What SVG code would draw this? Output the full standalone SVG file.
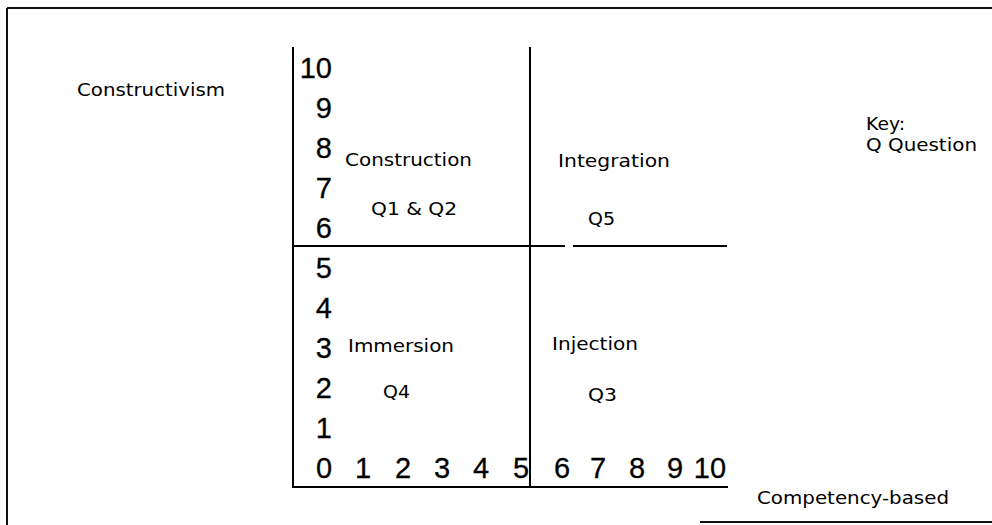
<svg xmlns="http://www.w3.org/2000/svg" width="992" height="525" viewBox="0 0 992 525">
<style>
.ln{stroke:#000;stroke-width:2;fill:none}
.bd{stroke:#111;stroke-width:2;fill:none}
.num{font-family:"Liberation Sans",Arial,sans-serif;font-size:29px;fill:#000;stroke:#000;stroke-width:0.3}
.lb{font-family:"DejaVu Sans","Noto Sans",sans-serif;font-size:18px;fill:#000}
</style>
<rect width="992" height="525" fill="#fff"/>
<g id="frame">
<line class="bd" x1="7" y1="8" x2="992" y2="8"/>
<line class="bd" x1="7" y1="8" x2="7" y2="525"/>
<line class="bd" x1="700" y1="522" x2="992" y2="522"/>
</g>
<g id="connectors">
<line class="ln" x1="293" y1="47" x2="293" y2="488"/>
<line class="ln" x1="530" y1="47" x2="530" y2="488"/>
<line class="ln" x1="292" y1="487" x2="728" y2="487"/>
<line class="ln" x1="292" y1="246" x2="565" y2="246"/>
<line class="ln" x1="573" y1="246" x2="727" y2="246"/>
</g>
<g id="y-axis" class="num" text-anchor="end">
<text x="332" y="78">10</text>
<text x="332" y="118">9</text>
<text x="332" y="158">8</text>
<text x="332" y="198">7</text>
<text x="332" y="238">6</text>
<text x="332" y="278">5</text>
<text x="332" y="318">4</text>
<text x="332" y="358">3</text>
<text x="332" y="398">2</text>
<text x="332" y="438">1</text>
</g>
<g id="x-axis" class="num" text-anchor="middle">
<text x="324" y="478">0</text>
<text x="363" y="478">1</text>
<text x="403" y="478">2</text>
<text x="442" y="478">3</text>
<text x="481" y="478">4</text>
<text x="521" y="478">5</text>
<text x="562" y="478">6</text>
<text x="598" y="478">7</text>
<text x="637" y="478">8</text>
<text x="675" y="478">9</text>
<text x="710" y="478">10</text>
</g>
<g id="constructivism"><text class="lb" x="77" y="96" textLength="148" lengthAdjust="spacingAndGlyphs">Constructivism</text></g>
<g id="construction">
<text class="lb" x="345" y="166" textLength="127" lengthAdjust="spacingAndGlyphs">Construction</text>
<text class="lb" x="371" y="215" textLength="86" lengthAdjust="spacingAndGlyphs">Q1 &amp; Q2</text>
</g>
<g id="integration">
<text class="lb" x="558" y="167" textLength="112" lengthAdjust="spacingAndGlyphs">Integration</text>
<text class="lb" x="588" y="225" textLength="27" lengthAdjust="spacingAndGlyphs">Q5</text>
</g>
<g id="immersion">
<text class="lb" x="348" y="352" textLength="106" lengthAdjust="spacingAndGlyphs">Immersion</text>
<text class="lb" x="383" y="398" textLength="27" lengthAdjust="spacingAndGlyphs">Q4</text>
</g>
<g id="injection">
<text class="lb" x="552" y="350" textLength="86" lengthAdjust="spacingAndGlyphs">Injection</text>
<text class="lb" x="588" y="401" textLength="29" lengthAdjust="spacingAndGlyphs">Q3</text>
</g>
<g id="key">
<text class="lb" x="866" y="130" textLength="39" lengthAdjust="spacingAndGlyphs">Key:</text>
<text class="lb" x="866" y="151" textLength="111" lengthAdjust="spacingAndGlyphs">Q Question</text>
</g>
<g id="competency"><text class="lb" x="757" y="504" textLength="192" lengthAdjust="spacingAndGlyphs">Competency-based</text></g>
</svg>
